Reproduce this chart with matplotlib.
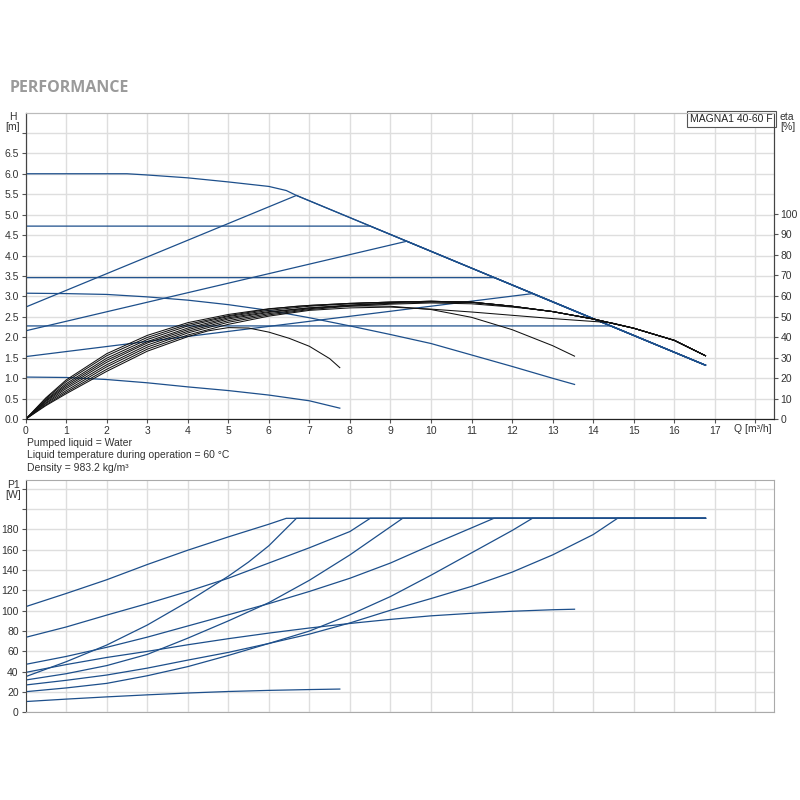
import numpy as np
import matplotlib
matplotlib.use("Agg")
import matplotlib.pyplot as plt

plt.rcParams['font.family'] = ['Liberation Sans', 'DejaVu Sans']

BLUE = '#1d4f8b'
BLACK = '#111111'
GRID = '#dedede'

# ---- head curves, H [m] vs Q [m3/h] ----
q_hmax = [0, 1, 2, 2.5, 3, 4, 5, 6, 6.43, 6.68, 16.77]
h_max = [6.0, 6.0, 6.0, 6.0, 5.97, 5.9, 5.8, 5.69, 5.59, 5.47, 1.32]

q_hsp2 = [0, 1, 2, 3, 4, 5, 6, 7, 8, 9, 10, 11, 12, 13, 13.54]
h_sp2 = [3.08, 3.07, 3.05, 2.99, 2.91, 2.80, 2.66, 2.48, 2.28, 2.07, 1.85, 1.57, 1.29, 1.0, 0.85]

q_hsp1 = [0, 1, 2, 3, 4, 5, 6, 7, 7.75]
h_sp1 = [1.03, 1.02, 0.97, 0.89, 0.79, 0.70, 0.59, 0.45, 0.27]

# constant / proportional pressure curves (end on the max curve)
q_cp472 = [0, 8.5, 16.77]
h_cp472 = [4.72, 4.72, 1.32]
q_cp346 = [0, 11.57, 16.77]
h_cp346 = [3.46, 3.46, 1.32]
q_cp228 = [0, 14.44, 16.77]
h_cp228 = [2.28, 2.28, 1.32]
q_pp548 = [0, 6.68, 16.77]
h_pp548 = [2.74, 5.47, 1.32]
q_pp437 = [0, 9.4, 16.77]
h_pp437 = [2.16, 4.35, 1.32]
q_pp307 = [0, 12.5, 16.77]
h_pp307 = [1.53, 3.07, 1.32]

# ---- efficiency curves, eta [%] ----
q_emax = [0, 0.5, 1, 2, 3, 4, 5, 6, 7, 8, 9, 10, 11, 12, 13, 14, 15, 16, 16.77]
e_max = [0, 10.4, 19.1, 31.9, 40.8, 47.0, 51.0, 53.8, 55.4, 56.4, 57.0, 57.4, 57.0,
         55.0, 52.4, 48.8, 44.3, 38.4, 30.9]

q_esp2 = [0, 0.5, 1, 2, 3, 4, 5, 6, 7, 8, 9, 10, 11, 12, 13, 13.54]
e_sp2 = [0, 9.0, 16.5, 28.7, 37.8, 44.4, 49.4, 52.4, 54.2, 55.2, 55.0, 53.4, 49.6, 43.6, 35.8, 30.7]

q_esp1 = [0, 0.5, 1, 2, 3, 4, 4.5, 5, 5.5, 6, 6.5, 7, 7.5, 7.75]
e_sp1 = [0, 6.6, 12.4, 23.3, 33.1, 40.2, 43.0, 44.6, 44.4, 42.4, 39.4, 35.5, 29.5, 25.1]

q_epp548 = [0, 0.5, 1, 2, 3, 4, 5, 6, 6.68]
e_pp548 = [0, 10.0, 18.3, 30.9, 39.8, 46.2, 50.4, 53.6, 55.0]
q_ecp472 = [0, 0.5, 1, 2, 3, 4, 5, 6, 7, 8, 8.5]
e_cp472 = [0, 9.4, 17.3, 29.7, 38.8, 45.4, 50.0, 53.0, 55.0, 56.2, 56.7]
q_epp437 = [0, 0.5, 1, 2, 3, 4, 5, 6, 7, 8, 9, 9.4]
e_pp437 = [0, 8.6, 15.7, 27.7, 37.1, 43.6, 48.8, 52.0, 54.2, 55.6, 56.6, 57.2]
q_ecp346 = [0, 0.5, 1, 2, 3, 4, 5, 6, 7, 8, 9, 10, 11, 11.57]
e_cp346 = [0, 8.0, 14.9, 26.5, 36.1, 42.8, 48.0, 51.4, 53.8, 55.4, 56.4, 57.0, 56.8, 55.9]
q_epp307 = [0, 0.5, 1, 2, 3, 4, 5, 6, 7, 8, 9, 10, 11, 12, 12.5]
e_pp307 = [0, 7.6, 13.9, 25.5, 35.1, 42.0, 47.2, 50.8, 53.4, 55.0, 56.0, 56.6, 56.2, 54.6, 53.6]
q_ecp228 = [0, 0.5, 1, 2, 3, 4, 5, 6, 7, 8, 9, 10, 11, 12, 13, 14, 14.44]
e_cp228 = [0, 7.0, 13.1, 24.3, 34.1, 41.0, 46.2, 50.2, 53.0, 54.2, 54.6, 53.6, 52.2, 50.6,
           49.0, 47.6, 47.0]

# ---- power consumption, P1 [W] ----
q_pmax = [0, 1, 2, 3, 4, 5, 6, 6.43, 16.77]
p_max = [104, 117, 130.5, 145.5, 159.6, 172.7, 185.2, 191, 191]
q_pcp472 = [0, 1, 2, 3, 4, 5, 6, 7, 8, 8.5, 16.77]
p_cp472 = [73.8, 84, 95.7, 107, 119, 132, 147, 162, 178, 191, 191]
q_ppp548 = [0, 1, 2, 3, 4, 5, 5.5, 6, 6.68, 16.77]
p_pp548 = [35.1, 49.8, 66.2, 85.9, 108.9, 134, 148, 164, 191, 191]
q_pcp346 = [0, 1, 2, 3, 4, 5, 6, 7, 8, 9, 10, 11, 11.55, 16.77]
p_cp346 = [47.2, 55, 64, 74, 85, 96, 107, 119, 132, 147, 164.6, 181.6, 191, 191]
q_ppp437 = [0, 1, 2, 3, 4, 5, 6, 7, 8, 9, 9.3, 16.77]
p_pp437 = [31.8, 38, 46, 57, 73, 90, 108, 130, 155, 182.7, 191, 191]
q_psp2 = [0, 1, 2, 3, 4, 5, 6, 7, 8, 9, 10, 11, 12, 13, 13.54]
p_sp2 = [39.3, 47, 54, 60, 66.5, 72.5, 78, 83, 87.5, 91.5, 95, 97.5, 99.5, 101, 101.5]
q_ppp307 = [0, 1, 2, 3, 4, 5, 6, 7, 8, 9, 10, 11, 12, 12.5, 16.77]
p_pp307 = [20.3, 24, 28.5, 36, 45, 56, 67.8, 80, 96, 114, 135, 157, 179, 191, 191]
q_pcp228 = [0, 1, 2, 3, 4, 5, 6, 7, 8, 9, 10, 11, 12, 13, 14, 14.6, 16.77]
p_cp228 = [26.9, 31.5, 36.7, 43.5, 51.4, 59, 67.8, 77, 88, 100.5, 112, 124, 138, 155, 175,
           191, 191]
q_psp1 = [0, 1, 2, 3, 4, 5, 6, 7, 7.75]
p_sp1 = [10.6, 13, 15.2, 17.2, 19, 20.5, 21.6, 22.4, 22.9]

h_ticks = np.arange(0, 7.01, 0.5)
eta_ticks = np.arange(0, 101, 10)
p_ticks = np.arange(0, 221, 20)
q_ticks = np.arange(0, 19)


def follow_max(q, v, q_ref, v_ref):
    # after meeting the max curve a control-mode curve runs along it
    q_ref = np.asarray(q_ref)
    m = q_ref > q[-1]
    return np.r_[q, q_ref[m]], np.r_[v, np.asarray(v_ref)[m]]


fig = plt.figure(figsize=(8, 8), dpi=100)

fig.text(10 / 800, 1 - 88 / 800, 'PERFORMANCE', family=['Open Sans', 'DejaVu Sans'],
         fontsize=11.5, fontweight='bold', color='#9a9a9a', va='center')

# ---------------- top chart ----------------
ax = fig.add_axes([0.032, 0.476, 0.935, 0.383])
ax.set_xlim(0, 18.45)
ax.set_ylim(0, 7.49)
ax.set_xticks(q_ticks)
ax.set_xticklabels([str(i) for i in range(18)] + [''])
ax.set_yticks(h_ticks)
ax.set_yticklabels(['%.1f' % v for v in h_ticks[:-1]] + [''])
ax.grid(color=GRID, lw=1.0)
ax.set_axisbelow(True)
ax.tick_params(labelsize=7.5, length=3, pad=2, color='#555555', labelcolor='#333333')

for q, h in [(q_hmax, h_max), (q_hsp2, h_sp2), (q_hsp1, h_sp1),
             (q_cp472, h_cp472), (q_cp346, h_cp346), (q_cp228, h_cp228),
             (q_pp548, h_pp548), (q_pp437, h_pp437), (q_pp307, h_pp307)]:
    ax.plot(q, h, color=BLUE, lw=0.9)

ax2 = ax.twinx()
ax2.set_ylim(0, 149.2)
ax2.set_yticks(eta_ticks)
ax2.tick_params(labelsize=7.5, length=3, pad=2, color='#555555', labelcolor='#333333')

ax2.plot(q_emax, e_max, color=BLACK, lw=0.75)
ax2.plot(q_esp2, e_sp2, color=BLACK, lw=0.75)
ax2.plot(q_esp1, e_sp1, color=BLACK, lw=0.75)
for q, e in [(q_epp548, e_pp548), (q_ecp472, e_cp472), (q_epp437, e_pp437),
             (q_ecp346, e_cp346), (q_epp307, e_pp307), (q_ecp228, e_cp228)]:
    qq, ee = follow_max(q, e, q_emax, e_max)
    ax2.plot(qq, ee, color=BLACK, lw=0.75)

for a in (ax, ax2):
    a.spines['top'].set_color('#bbbbbb')
    a.spines['left'].set_color('#444444')
    a.spines['right'].set_color('#444444')
    a.spines['bottom'].set_color('#222222')

ax.text(0.9985, 0.997, 'MAGNA1 40-60 F', transform=ax.transAxes, ha='right', va='top',
        fontsize=7.5, color='#222222',
        bbox=dict(boxstyle='square,pad=0.3', fc='white', ec='#555555', lw=0.8))

fig.text(13 / 800, 1 - 122 / 800, 'H\n[m]', ha='center', va='center', fontsize=7.5,
         color='#333333', linespacing=1.05)
fig.text(780 / 800, 1 - 122 / 800, 'eta\n[%]', ha='left', va='center', fontsize=7.5,
         color='#333333', linespacing=1.05)
fig.text(734 / 800, 1 - 429 / 800, 'Q [m³/h]', ha='left', va='center', fontsize=7.5,
         color='#333333')

notes = ['Pumped liquid = Water',
         'Liquid temperature during operation = 60 °C',
         'Density = 983.2 kg/m³']
for i, s in enumerate(notes):
    fig.text(27 / 800, 1 - (443 + 12.5 * i) / 800, s, va='center', fontsize=7.5,
             color='#333333')

# ---------------- bottom chart ----------------
axb = fig.add_axes([0.032, 0.1096, 0.935, 0.291])
axb.set_xlim(0, 18.45)
axb.set_ylim(0, 229.2)
axb.set_xticks(q_ticks)
axb.set_xticklabels([])
axb.set_yticks(p_ticks)
axb.set_yticklabels([str(v) for v in p_ticks[:-2]] + ['', ''])
axb.grid(color=GRID, lw=1.0)
axb.set_axisbelow(True)
axb.tick_params(axis='y', labelsize=7.5, length=3, pad=2, color='#555555',
                labelcolor='#333333')
axb.tick_params(axis='x', length=0)
for s in ('top', 'right', 'bottom'):
    axb.spines[s].set_color('#aaaaaa')
axb.spines['left'].set_color('#444444')

for q, p in [(q_pmax, p_max), (q_pcp472, p_cp472), (q_ppp548, p_pp548),
             (q_pcp346, p_cp346), (q_ppp437, p_pp437), (q_psp2, p_sp2),
             (q_ppp307, p_pp307), (q_pcp228, p_cp228), (q_psp1, p_sp1)]:
    axb.plot(q, p, color=BLUE, lw=0.9)

fig.text(13 / 800, 1 - 490 / 800, 'P1\n[W]', ha='center', va='center', fontsize=7.5,
         color='#333333', linespacing=1.05)

fig.savefig('out.png', dpi=100)
